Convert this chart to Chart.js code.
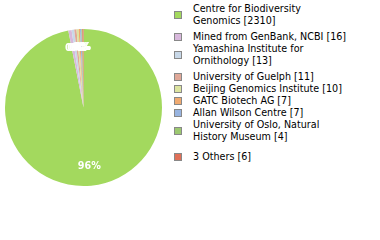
<!DOCTYPE html>
<html>
<head>
<meta charset="utf-8">
<script src="https://cdn.jsdelivr.net/npm/chart.js@4"></script>
<style>
  html, body { margin: 0; padding: 0; background: #fff; }
  #wrap { position: relative; width: 380px; height: 240px; overflow: hidden; }
  #chart { position: absolute; left: 0; top: 0; }
  #legend { position: absolute; left: 174px; top: 3px; width: 200px;
            font-family: "DejaVu Sans", sans-serif; font-size: 9.6px; color: #000; }
  .item { display: flex; align-items: center; }
  .box { width: 8px; height: 8px; box-sizing: border-box; border: 1px solid #888; margin-right: 11px; flex: none; }
  .txt { width: 156px; line-height: 12px; }
  .item.multi { margin-bottom: 4px; }
  .item.last { margin-top: 8px; }
</style>
</head>
<body>
<div id="wrap">
  <canvas id="chart" width="170" height="240"></canvas>
  <div id="legend"></div>
</div>
<script>
const categories = [
  "Centre for Biodiversity Genomics",
  "Mined from GenBank, NCBI",
  "Yamashina Institute for Ornithology",
  "University of Guelph",
  "Beijing Genomics Institute",
  "GATC Biotech AG",
  "Allan Wilson Centre",
  "University of Oslo, Natural History Museum",
  "3 Others"
];
const counts = [2310, 16, 13, 11, 10, 7, 7, 4, 6];
const colors = ["#a3d95e", "#d8b8dc", "#c8d8e8", "#e0a898", "#dce4a0", "#f0aa70", "#98b4e0", "#9cc870", "#e07058"];

const total = counts.reduce((a, b) => a + b, 0);

const labelPlugin = {
  id: 'sliceLabels',
  afterDatasetsDraw(chart) {
    const ctx = chart.ctx;
    const meta = chart.getDatasetMeta(0);
    ctx.save();
    ctx.font = 'bold 9.6px "DejaVu Sans", sans-serif';
    ctx.fillStyle = '#fff';
    ctx.textAlign = 'center';
    ctx.textBaseline = 'middle';
    meta.data.forEach((arc, i) => {
      const p = arc.getProps(['x', 'y', 'startAngle', 'endAngle', 'outerRadius'], true);
      const mid = (p.startAngle + p.endAngle) / 2;
      const d = p.outerRadius * 0.76;
      const pct = Math.floor(counts[i] / total * 100) + '%';
      ctx.fillText(pct, p.x + Math.cos(mid) * d, p.y + Math.sin(mid) * d);
    });
    ctx.restore();
  }
};

new Chart(document.getElementById('chart'), {
  type: 'pie',
  data: {
    labels: categories,
    datasets: [{ data: counts, backgroundColor: colors, borderWidth: 0 }]
  },
  options: {
    responsive: false,
    animation: false,
    layout: { padding: { left: 5, top: 29, right: 8, bottom: 54 } },
    plugins: { legend: { display: false }, tooltip: { enabled: false } }
  },
  plugins: [labelPlugin]
});

const legend = document.getElementById('legend');
categories.forEach((name, i) => {
  const item = document.createElement('div');
  item.className = 'item';
  const box = document.createElement('div');
  box.className = 'box';
  box.style.background = colors[i];
  const txt = document.createElement('div');
  txt.className = 'txt';
  txt.textContent = name + ' [' + counts[i] + ']';
  item.appendChild(box);
  item.appendChild(txt);
  legend.appendChild(item);
});
Array.from(legend.children).forEach((item, i, arr) => {
  if (item.querySelector('.txt').offsetHeight > 14) item.classList.add('multi');
  if (i === arr.length - 1) item.classList.add('last');
});
</script>
</body>
</html>
